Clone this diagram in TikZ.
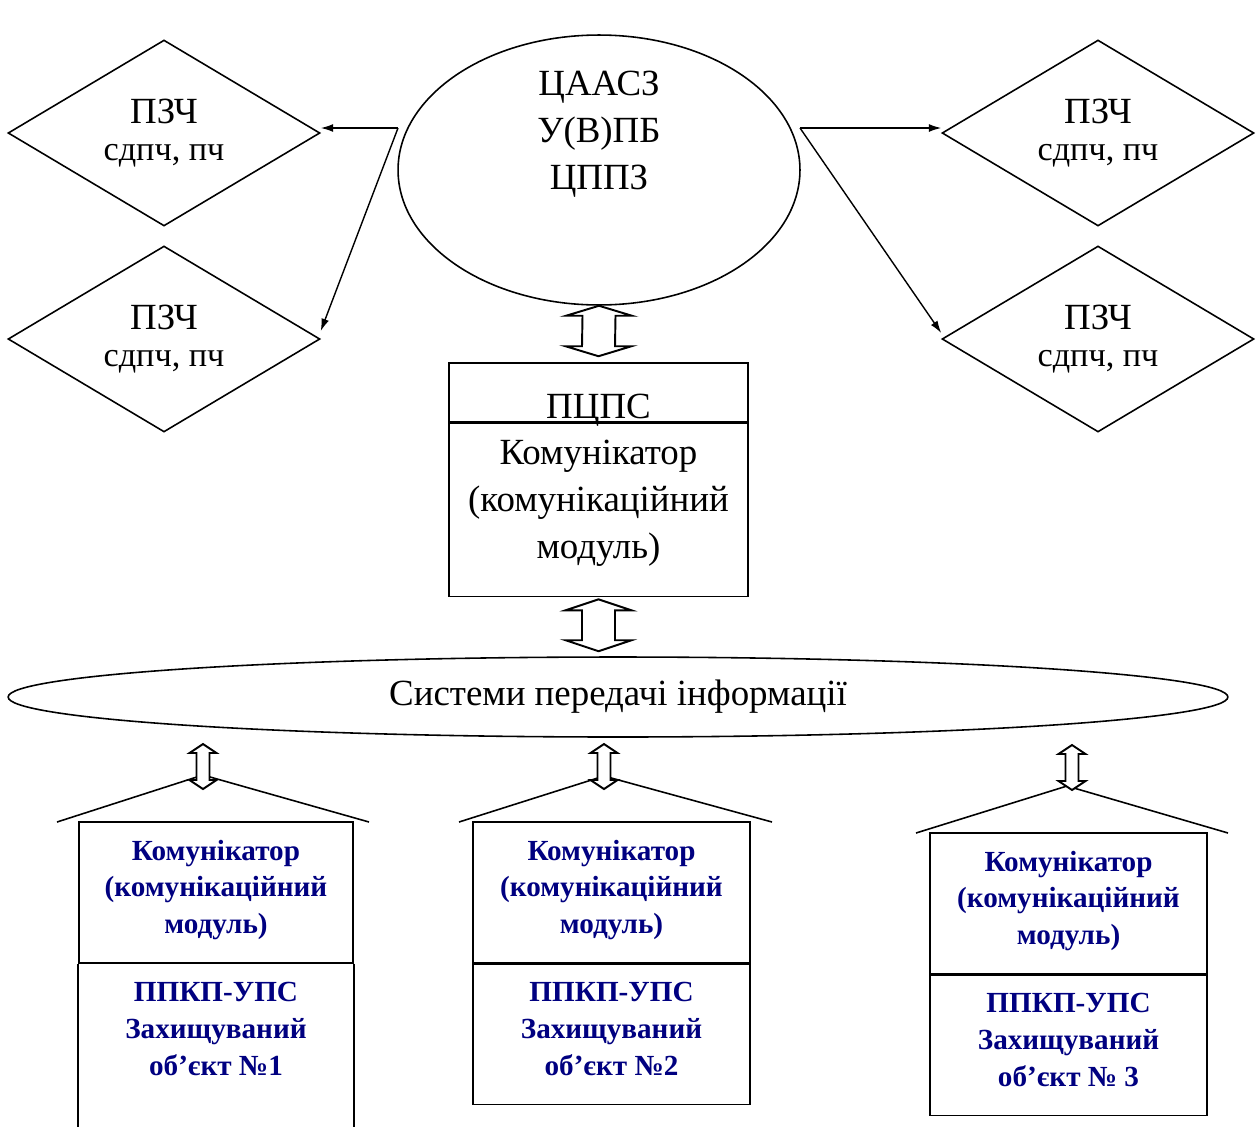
\documentclass[tikz,border=0pt]{standalone}
\usepackage{fontspec}
\setmainfont{Liberation Serif}
\usetikzlibrary{shapes.geometric,positioning,calc,arrows.meta}
\definecolor{objblue}{RGB}{0,0,128}
\tikzstyle{rhomb} = [diamond, aspect=1.68, draw=black, line width=0.9pt, minimum width=6.24cm, minimum height=3.72cm, inner sep=0pt, align=center, font=\fontsize{21}{21.4}\selectfont]
\tikzstyle{oval} = [ellipse, draw=black, line width=0.9pt, inner sep=0pt]
\tikzstyle{squared} = [rectangle, draw=black, line width=0.9pt, inner sep=0pt, align=center]
\tikzstyle{bigtext} = [font=\fontsize{21}{26.7}\selectfont]
\tikzstyle{objtext} = [font=\fontsize{16.6}{21}\selectfont\bfseries, text=objblue, align=center]
\tikzstyle{connect} = [line width=0.8pt, -{Latex[length=7pt,width=4.5pt]}]
\tikzstyle{fatline} = [line width=1.1pt, fill=white, line join=miter]
\tikzstyle{roof} = [line width=0.9pt]
\newcommand{\unitfont}{\fontsize{19.5}{21.4}\selectfont}
% tip top, tip bottom, head half-width, shaft half-width, head length
\newcommand{\fatarrow}[5]{%
  \draw [fatline] #1 -- ++(#3,-#5) -- ++(#4-#3,0) -- ($#2+(#4,#5)$) -- ++(#3-#4,0) -- #2
    -- ++(-#3,#5) -- ++(#3-#4,0) -- ($#1+(-#4,-#5)$) -- ++(#4-#3,0) -- cycle;}

\begin{document}
\begin{tikzpicture}[x=0.02cm, y=0.02cm]
	\useasboundingbox (0,0) rectangle (1256,-1126);

	% centre
	\node (ell) [oval, minimum width=8.04cm, minimum height=5.4cm] at (599,-170) {};
	\node (elltext) [bigtext, align=center] at (599,-134) {ЦААСЗ\\У(В)ПБ\\ЦППЗ};

	\node (pz1) [rhomb] at (164,-133) {ПЗЧ\\{\unitfont сдпч, пч}};
	\node (pz2) [rhomb] at (164,-339) {ПЗЧ\\{\unitfont сдпч, пч}};
	\node (pz3) [rhomb] at (1098,-133) {ПЗЧ\\{\unitfont сдпч, пч}};
	\node (pz4) [rhomb] at (1098,-339) {ПЗЧ\\{\unitfont сдпч, пч}};

	\coordinate (eL) at (398,-128);
	\coordinate (eR) at (800,-128);
	\draw [connect] (eL) -- (eL -| pz1.east);
	\draw [connect] (eL) -- ([yshift=0.16cm]pz2.east);
	\draw [connect] (eR) -- (eR -| pz3.west);
	\draw [connect] (eR) -- ([yshift=0.12cm]pz4.west);

	% ПЦПС
	\node (pcps) [squared, minimum width=5.98cm, minimum height=1.18cm] at (598.5,-392.5) {};
	\node (pcpstext) [bigtext, inner sep=0pt, above=-2pt of pcps.south] {ПЦПС};
	\node (komm) [squared, minimum width=5.98cm, minimum height=3.46cm, below=0pt of pcps] {};
	\node (kommtext) [bigtext, align=center] at ([yshift=0.13cm]komm.center) {Комунікатор\\(комунікаційний\\модуль)};

	\node (net) [oval, bigtext, minimum width=24.4cm, minimum height=1.6cm] at (618,-697) {Системи передачі інформації};

	\coordinate (a1b) at ([yshift=0.12cm]pcps.north);
	\coordinate (a2t) at ([yshift=-0.04cm]komm.south);
	\coordinate (a2b) at ($(a2t |- net.north)+(0,5)$);
	\fatarrow{(ell.south)}{(a1b)}{33}{16.5}{10}
	\fatarrow{(a2t)}{(a2b)}{33}{16.5}{11}

	% objects
	\node (k1) [squared, minimum width=5.48cm, minimum height=2.82cm] at (216,-892.5) {};
	\node (o1) [squared, draw=none, minimum width=5.48cm, minimum height=2.8cm, below=0pt of k1] {};
	\draw [roof] (o1.north west) -- ++(0,-200);
	\draw [roof] (o1.north east) -- ++(0,-200);

	\node (k2) [squared, minimum width=5.54cm, minimum height=2.82cm] at (611.5,-892.5) {};
	\node (o2) [squared, minimum width=5.54cm, minimum height=2.8cm, below=0pt of k2] {};

	\node (k3) [squared, minimum width=5.54cm, minimum height=2.82cm] at (1068.5,-903.5) {};
	\node (o3) [squared, minimum width=5.54cm, minimum height=2.8cm, below=0pt of k3] {};

	\node (kt1) [objtext] at ([yshift=0.05cm]k1.center) {Комунікатор\\(комунікаційний\\модуль)};
	\node (kt2) [objtext] at ([yshift=0.05cm]k2.center) {Комунікатор\\(комунікаційний\\модуль)};
	\node (kt3) [objtext] at ([yshift=0.05cm]k3.center) {Комунікатор\\(комунікаційний\\модуль)};
	\node (ot1) [objtext] at ([yshift=0.11cm]o1.center) {ППКП-УПС\\Захищуваний\\об’єкт №1};
	\node (ot2) [objtext] at ([yshift=0.11cm]o2.center) {ППКП-УПС\\Захищуваний\\об’єкт №2};
	\node (ot3) [objtext] at ([yshift=0.11cm]o3.center) {ППКП-УПС\\Захищуваний\\об’єкт № 3};

	\draw [roof] (57,-822) -- (203,-775) -- (369,-822);
	\draw [roof] (459,-822) -- (604,-776) -- (772,-822);
	\draw [roof] (916,-833) -- (1067,-786) -- (1228,-833);

	\coordinate (s1t) at (203,-744);
	\coordinate (s1b) at (203,-789);
	\coordinate (s2t) at (604,-744);
	\coordinate (s2b) at (604,-789);
	\coordinate (s3t) at (1072,-745);
	\coordinate (s3b) at (1072,-790);
	\fatarrow{(s1t)}{(s1b)}{13.5}{6.5}{9}
	\fatarrow{(s2t)}{(s2b)}{13.5}{6.5}{9}
	\fatarrow{(s3t)}{(s3b)}{13.5}{6.5}{9}
\end{tikzpicture}
\end{document}
